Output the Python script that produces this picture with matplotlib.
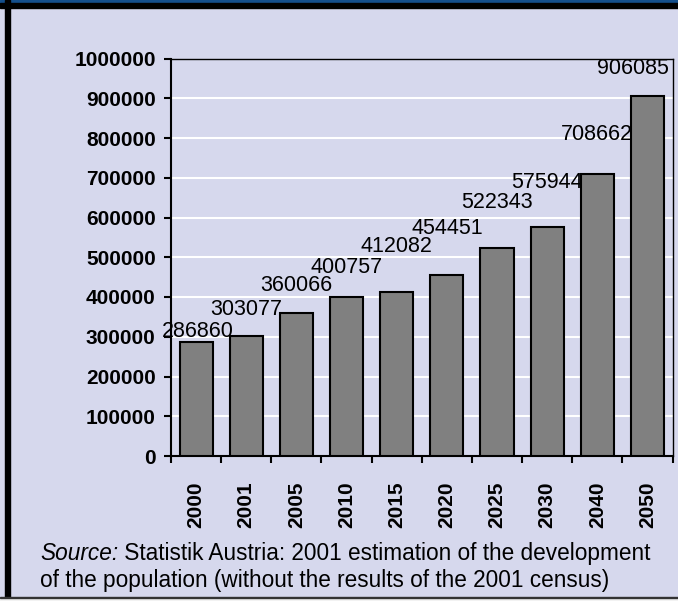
import matplotlib
matplotlib.use("Agg")
import matplotlib.pyplot as plt
import numpy as np

# values as printed on the bars
years = ["2000", "2001", "2005", "2010", "2015", "2020", "2025", "2030", "2040", "2050"]
values = [286860, 303077, 360066, 400757, 412082, 454451, 522343, 575944, 708662, 906085]
yticks = [0, 100000, 200000, 300000, 400000, 500000, 600000, 700000, 800000, 900000, 1000000]

bg = "#d6d8ed"
plt.rcParams["font.family"] = ["Liberation Sans", "DejaVu Sans"]

fig = plt.figure(figsize=(6.78, 6.01), dpi=100, facecolor=bg)

# frame: blue strip on top, black borders
fig.patches.append(plt.Rectangle((0, 1 - 3 / 601), 1, 3 / 601, transform=fig.transFigure,
                                 color="#144f8c", zorder=0))
fig.patches.append(plt.Rectangle((0, 1 - 8 / 601), 1, 5 / 601, transform=fig.transFigure,
                                 color="black", zorder=0))
fig.patches.append(plt.Rectangle((5 / 678, 0), 4.5 / 678, 1, transform=fig.transFigure,
                                 color="black", zorder=0))
fig.patches.append(plt.Rectangle((0, 0), 1, 3 / 601, transform=fig.transFigure,
                                 color="#f2f2f2", zorder=0))
fig.patches.append(plt.Rectangle((0, 3 / 601), 1, 1.5 / 601, transform=fig.transFigure,
                                 color="#333333", zorder=0))

ax = fig.add_axes([171 / 678, 1 - 456 / 601, 501.5 / 678, 397.5 / 601])
ax.set_facecolor(bg)

x = np.arange(len(years))
ax.bar(x, values, width=0.66, color="#808080", edgecolor="black", linewidth=1.5, zorder=3)

# value labels (Excel placed them at uneven heights)
label_dy = [5, 21, 22, 24, 40, 41, 40, 39, 34, 22]
label_dx = [2, 0, 0, 0, 0, 0, 0, 0, 0, -14]
for xi, v, dy, dx in zip(x, values, label_dy, label_dx):
    ax.annotate(str(v), (xi, v), xytext=(dx, dy), textcoords="offset pixels",
                ha="center", va="baseline", fontsize=15.5, zorder=4)

ax.set_xlim(-0.5, len(years) - 0.5)
ax.set_ylim(0, 1000000)
ax.set_yticks(yticks)
ax.set_yticklabels([str(t) for t in yticks], fontsize=15, fontweight="bold")
ax.yaxis.grid(True, color="white", linewidth=1.5, zorder=1)
ax.set_axisbelow(True)

ax.set_xticks(np.arange(len(years) + 1) - 0.5)
ax.set_xticklabels([])
ax.set_xticks(x, minor=True)
ax.set_xticklabels(years, minor=True, rotation=90, fontsize=15, fontweight="bold")
ax.tick_params(axis="x", which="major", length=5, width=1.5, direction="out")
ax.tick_params(axis="x", which="minor", length=0, pad=18)
ax.tick_params(axis="y", length=5, width=1.5, pad=6)

for s in ["left", "bottom"]:
    ax.spines[s].set_linewidth(1.5)
for s in ["top", "right"]:
    ax.spines[s].set_linewidth(1.0)

# source note, "Source:" in italics
src_size = 16.3
t1 = fig.text(40 / 678, 1 - 560 / 601, "Source:", fontsize=src_size, style="italic",
              va="baseline")
r = fig.canvas.get_renderer()
w = t1.get_window_extent(renderer=r).width
fig.text((40 + w) / 678, 1 - 560 / 601, " Statistik Austria: 2001 estimation of the development",
         fontsize=src_size, va="baseline")
fig.text(40 / 678, 1 - 587 / 601, "of the population (without the results of the 2001 census)",
         fontsize=src_size, va="baseline")

fig.savefig("out.png", dpi=100, facecolor=bg)
